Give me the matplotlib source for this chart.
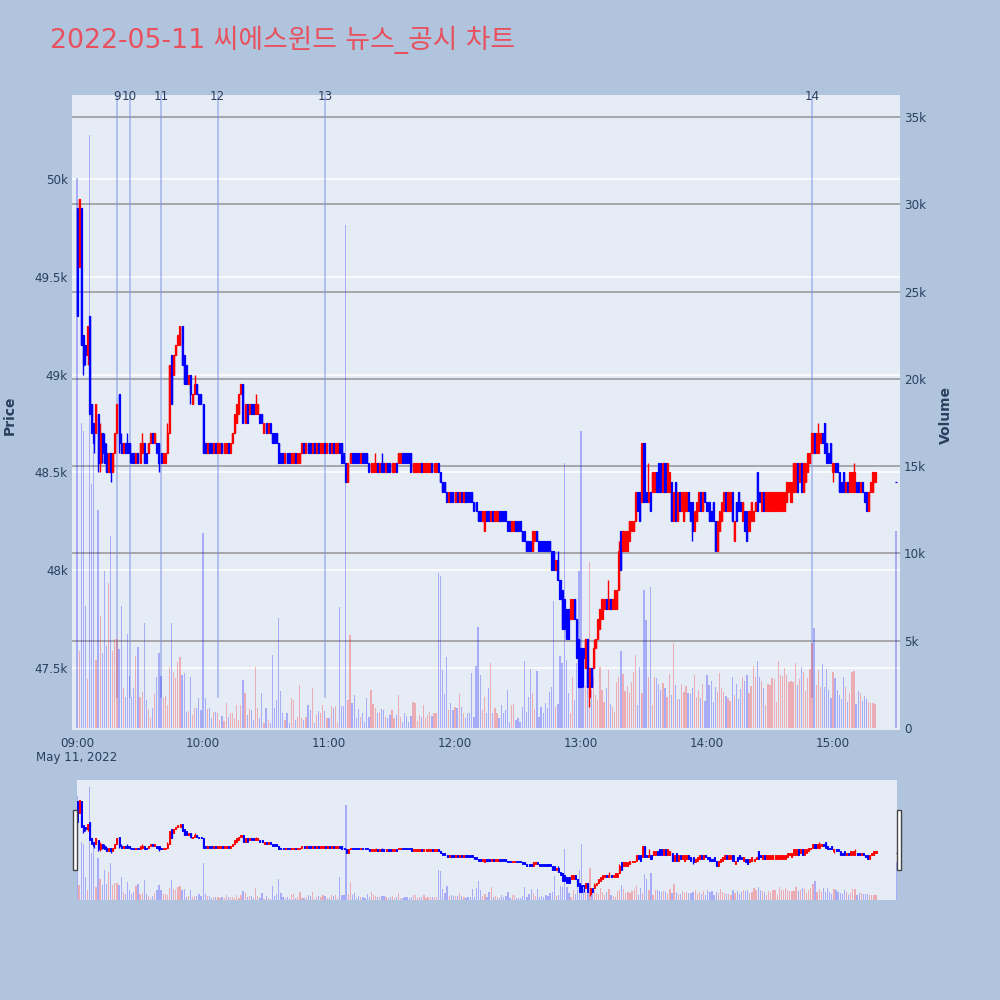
import matplotlib
matplotlib.use("Agg")
import matplotlib.pyplot as plt
import matplotlib.dates as mdates
from matplotlib.patches import Rectangle
import numpy as np
import pandas as pd

TITLE = "2022-05-11 씨에스윈드 뉴스_공시 차트"

# ---- minute candles 09:00 .. 15:20, plus the 15:30 closing auction ----
opens = [
 49850,49550,49850,49200,49150,49100,49300,48850,48750,48700,
 48800,48550,48700,48650,48600,48500,48600,48500,48600,48700,
 48900,48650,48600,48650,48650,48650,48600,48600,48550,48600,
 48550,48600,48650,48600,48600,48650,48700,48650,48650,48650,
 48600,48550,48550,48600,48700,49100,49000,49100,49150,49150,
 49250,49100,49050,48950,49000,48850,48900,48950,48900,48900,
 48850,48650,48600,48650,48650,48600,48650,48600,48600,48650,
 48600,48600,48650,48600,48650,48700,48750,48800,48900,48950,
 48750,48850,48800,48850,48850,48800,48800,48800,48800,48700,
 48750,48700,48750,48700,48700,48700,48650,48600,48600,48550,
 48600,48600,48550,48550,48600,48550,48550,48600,48650,48600,
 48650,48650,48600,48650,48600,48650,48600,48600,48650,48600,
 48650,48600,48650,48600,48600,48650,48650,48600,48550,48450,
 48550,48600,48600,48600,48600,48550,48600,48600,48600,48550,
 48500,48500,48500,48550,48500,48550,48550,48500,48550,48550,
 48500,48500,48550,48550,48550,48600,48600,48600,48600,48600,
 48500,48500,48500,48500,48550,48500,48500,48500,48500,48550,
 48500,48500,48550,48500,48450,48450,48400,48350,48400,48400,
 48350,48400,48350,48400,48350,48400,48400,48400,48400,48350,
 48350,48300,48300,48250,48200,48300,48300,48250,48300,48250,
 48250,48300,48300,48300,48300,48250,48250,48200,48200,48250,
 48250,48250,48200,48200,48150,48150,48150,48100,48150,48200,
 48150,48150,48150,48150,48150,48150,48100,48100,48000,48050,
 47950,47900,47850,47800,47800,47750,47750,47850,47750,47650,
 47600,47600,47500,47650,47350,47500,47500,47600,47650,47700,
 47750,47800,47850,47800,47850,47800,47800,47800,47900,48200,
 48100,48100,48100,48150,48200,48200,48250,48400,48400,48350,
 48650,48400,48350,48400,48400,48400,48500,48550,48550,48400,
 48550,48400,48400,48450,48250,48450,48250,48400,48300,48250,
 48300,48400,48350,48350,48200,48250,48300,48400,48300,48400,
 48350,48350,48300,48350,48250,48100,48200,48250,48300,48400,
 48300,48300,48400,48150,48350,48400,48350,48250,48300,48300,
 48200,48250,48250,48300,48500,48400,48300,48400,48300,48300,
 48300,48300,48300,48300,48300,48300,48300,48300,48350,48400,
 48350,48400,48400,48550,48450,48550,48400,48450,48500,48550,
 48600,48700,48600,48600,48650,48700,48750,48650,48600,48650,
 48500,48550,48550,48500,48450,48500,48400,48450,48400,48400,
 48400,48450,48450,48400,48450,48400,48400,48300,48400,48400,48450,
 48450]
highs = [
 49850,49900,49850,49200,49150,49250,49300,48850,48750,48850,
 48800,48750,48700,48700,48650,48600,48600,48600,48700,48850,
 48900,48700,48650,48650,48700,48650,48600,48600,48600,48600,
 48650,48700,48650,48600,48650,48700,48700,48700,48650,48650,
 48600,48600,48600,48750,49050,49100,49100,49150,49200,49250,
 49250,49100,49050,49000,49000,48900,49000,48950,48900,48900,
 48850,48650,48650,48650,48650,48650,48650,48650,48650,48650,
 48650,48650,48650,48650,48700,48800,48850,48900,48950,48950,
 48850,48850,48850,48850,48850,48900,48850,48800,48800,48750,
 48750,48750,48750,48700,48700,48700,48650,48600,48600,48600,
 48600,48600,48600,48600,48600,48600,48600,48650,48650,48650,
 48650,48650,48650,48650,48650,48650,48650,48650,48650,48650,
 48650,48650,48650,48650,48650,48650,48650,48600,48550,48550,
 48600,48600,48600,48600,48600,48600,48600,48600,48600,48550,
 48550,48550,48600,48550,48550,48600,48550,48550,48550,48550,
 48550,48550,48550,48600,48600,48600,48600,48600,48600,48600,
 48550,48550,48550,48550,48550,48550,48550,48550,48550,48550,
 48550,48550,48550,48500,48450,48450,48400,48400,48400,48400,
 48400,48400,48400,48400,48400,48400,48400,48400,48400,48350,
 48350,48300,48300,48300,48300,48300,48300,48300,48300,48300,
 48300,48300,48300,48300,48300,48250,48250,48250,48250,48250,
 48250,48250,48200,48200,48150,48150,48150,48200,48200,48200,
 48150,48150,48150,48150,48150,48150,48100,48100,48050,48100,
 47950,47900,47850,47800,47800,47850,47850,47850,47750,47650,
 47600,47600,47650,47650,47500,47500,47650,47650,47750,47800,
 47850,47850,47850,47950,47850,47850,47900,47900,48150,48200,
 48200,48200,48200,48250,48250,48250,48400,48400,48400,48650,
 48650,48400,48550,48400,48500,48500,48500,48550,48550,48550,
 48550,48550,48500,48450,48400,48450,48400,48400,48400,48400,
 48400,48400,48350,48350,48300,48350,48400,48400,48400,48400,
 48350,48350,48300,48350,48250,48250,48300,48350,48400,48400,
 48400,48400,48400,48250,48350,48400,48350,48350,48300,48300,
 48300,48350,48300,48350,48500,48400,48400,48400,48400,48400,
 48400,48400,48400,48400,48400,48400,48400,48400,48450,48450,
 48450,48550,48550,48550,48550,48550,48550,48550,48600,48600,
 48700,48700,48700,48750,48700,48700,48750,48650,48600,48650,
 48550,48550,48550,48500,48450,48500,48450,48450,48500,48500,
 48550,48450,48450,48450,48450,48400,48400,48400,48450,48500,48500,
 48450]
lows = [
 49300,49550,49150,49000,49050,49050,48800,48700,48600,48700,
 48500,48500,48550,48550,48500,48500,48450,48500,48600,48700,
 48600,48600,48600,48600,48600,48550,48550,48550,48550,48550,
 48550,48600,48550,48550,48600,48650,48650,48650,48600,48500,
 48550,48550,48550,48600,48700,48850,49000,49100,49150,49150,
 49050,48950,48950,48950,48850,48850,48900,48900,48850,48850,
 48600,48600,48600,48600,48600,48600,48600,48600,48600,48600,
 48600,48600,48600,48600,48650,48700,48750,48800,48900,48750,
 48750,48750,48800,48800,48800,48800,48800,48750,48750,48700,
 48700,48700,48700,48650,48650,48650,48550,48550,48550,48550,
 48550,48550,48550,48550,48550,48550,48550,48600,48600,48600,
 48600,48600,48600,48600,48600,48600,48600,48600,48600,48600,
 48600,48600,48600,48600,48600,48600,48550,48550,48450,48450,
 48550,48550,48550,48550,48550,48550,48550,48550,48550,48500,
 48500,48500,48500,48500,48500,48500,48500,48500,48500,48500,
 48500,48500,48500,48550,48550,48550,48550,48550,48550,48500,
 48500,48500,48500,48500,48500,48500,48500,48500,48500,48500,
 48500,48500,48500,48450,48400,48400,48350,48350,48350,48350,
 48350,48350,48350,48350,48350,48350,48350,48350,48350,48300,
 48300,48250,48250,48250,48200,48250,48250,48250,48250,48250,
 48250,48250,48250,48250,48250,48200,48200,48200,48200,48200,
 48200,48200,48150,48150,48100,48100,48100,48100,48150,48150,
 48100,48100,48100,48100,48100,48100,48000,48000,48000,47950,
 47850,47700,47700,47650,47650,47750,47750,47750,47550,47400,
 47400,47400,47500,47400,47300,47400,47500,47600,47650,47700,
 47750,47800,47800,47800,47800,47800,47800,47800,47900,48000,
 48100,48100,48100,48150,48200,48200,48250,48300,48250,48350,
 48350,48350,48350,48300,48400,48400,48400,48400,48400,48400,
 48400,48400,48400,48250,48250,48250,48250,48300,48300,48250,
 48300,48300,48250,48150,48200,48250,48300,48300,48300,48350,
 48300,48250,48250,48250,48100,48100,48200,48250,48300,48300,
 48300,48300,48250,48150,48250,48300,48300,48250,48200,48150,
 48200,48250,48250,48300,48300,48350,48300,48300,48300,48300,
 48300,48300,48300,48300,48300,48300,48300,48300,48350,48400,
 48350,48400,48400,48400,48450,48400,48400,48450,48500,48550,
 48600,48600,48600,48600,48650,48650,48600,48550,48550,48550,
 48450,48500,48500,48400,48400,48400,48400,48400,48400,48400,
 48400,48400,48400,48400,48400,48350,48300,48300,48400,48400,48450,
 48450]
closes = [
 49300,49900,49150,49050,49100,49250,48800,48700,48650,48850,
 48550,48700,48600,48550,48500,48600,48500,48600,48700,48850,
 48650,48600,48650,48600,48600,48600,48550,48550,48600,48550,
 48650,48650,48550,48550,48650,48700,48650,48700,48600,48550,
 48550,48600,48600,48700,49050,48850,49100,49150,49200,49250,
 49050,48950,48950,49000,48900,48900,48950,48900,48850,48850,
 48600,48600,48650,48600,48600,48650,48600,48650,48650,48600,
 48650,48650,48600,48650,48700,48800,48850,48900,48950,48750,
 48850,48750,48850,48800,48800,48850,48850,48750,48750,48750,
 48700,48750,48700,48650,48650,48650,48550,48550,48550,48600,
 48550,48550,48600,48600,48550,48600,48600,48650,48600,48650,
 48600,48600,48650,48600,48650,48600,48650,48650,48600,48650,
 48600,48650,48600,48650,48650,48600,48550,48550,48450,48550,
 48600,48550,48550,48550,48550,48600,48550,48550,48550,48500,
 48550,48550,48550,48500,48550,48500,48500,48550,48500,48500,
 48550,48550,48500,48600,48600,48550,48550,48550,48550,48500,
 48550,48550,48550,48550,48500,48550,48550,48550,48550,48500,
 48550,48550,48500,48450,48400,48400,48350,48400,48350,48350,
 48400,48350,48400,48350,48400,48350,48350,48350,48350,48300,
 48300,48250,48250,48300,48300,48250,48250,48300,48250,48300,
 48300,48250,48250,48250,48250,48200,48200,48250,48250,48200,
 48200,48200,48150,48150,48100,48100,48100,48200,48200,48150,
 48100,48100,48100,48100,48100,48100,48000,48000,48050,47950,
 47850,47700,47700,47650,47650,47850,47850,47750,47550,47400,
 47400,47550,47650,47400,47500,47400,47600,47650,47750,47800,
 47850,47850,47800,47850,47800,47850,47900,47900,48100,48000,
 48200,48200,48200,48250,48250,48250,48400,48300,48250,48650,
 48350,48350,48400,48300,48500,48500,48400,48400,48400,48550,
 48400,48550,48500,48250,48400,48250,48400,48300,48400,48400,
 48400,48300,48250,48200,48300,48350,48400,48300,48400,48350,
 48300,48250,48250,48250,48100,48250,48300,48350,48400,48300,
 48400,48400,48250,48250,48250,48300,48300,48350,48200,48150,
 48300,48350,48300,48350,48300,48350,48400,48300,48400,48400,
 48400,48400,48400,48400,48400,48400,48400,48400,48450,48450,
 48450,48550,48550,48400,48550,48400,48550,48550,48600,48600,
 48700,48600,48700,48700,48700,48650,48600,48550,48550,48550,
 48550,48500,48500,48400,48400,48400,48450,48400,48500,48500,
 48500,48400,48400,48450,48400,48350,48300,48400,48450,48500,48500,
 48450]
volumes = [
 31500,4400,17500,17000,7000,2800,34000,14000,17000,3900,
 12500,6400,4300,9000,4700,8300,11000,4400,5100,5100,
 4500,7000,2300,1800,5400,3000,1800,2270,4100,4660,
 1800,2080,6000,1600,1090,550,1130,1930,2940,4300,
 3000,1700,1830,1320,3480,6000,3230,2850,3800,4050,
 3040,3130,940,970,2940,740,1170,1170,1700,1030,
 11200,1700,1070,1130,550,940,900,840,460,690,
 420,1410,650,840,880,550,1320,460,1320,2750,
 1990,740,1090,1030,460,3480,1130,550,2000,270,
 1130,460,270,4180,1170,1600,6280,2140,840,460,
 840,270,1700,1600,460,650,2460,550,460,650,
 1320,1030,2270,310,740,970,840,1320,1000,550,
 550,1260,1130,1260,360,6950,1260,1260,28800,1600,
 5330,1410,1890,550,1070,650,880,360,1700,650,
 2200,1400,1130,840,940,1070,1030,650,550,740,
 1030,550,740,1890,610,360,840,690,360,690,
 1510,1410,400,740,650,1320,550,740,920,710,
 840,840,8900,8700,3320,1950,4090,1030,1450,1030,
 1220,1130,1950,1220,840,550,840,880,3170,650,
 3550,5770,3040,1030,1800,840,2290,3700,840,1170,
 880,550,1320,840,1030,2180,360,1320,1360,460,
 550,360,1220,3840,940,1800,3360,1990,1070,3280,
 650,1220,840,1410,1130,2040,2370,7300,1200,1400,
 4100,3700,15200,3900,2000,850,2900,1600,3700,9000,
 17000,3300,2400,2400,9500,2200,2900,1900,1600,3500,
 2200,1500,2300,3300,1400,1200,900,2650,2900,4400,
 3100,2100,2400,2000,2650,3200,4200,1300,3500,2000,
 7900,6200,2900,8100,1300,2900,2850,2500,2200,2600,
 2300,1800,3100,1890,4850,2440,1660,1660,2500,2040,
 2410,2030,1950,2270,3040,1800,2180,1700,2500,1550,
 3060,2460,2670,1510,2370,2060,3130,2310,2080,1850,
 1700,1550,2900,1890,2520,1660,2220,2900,2690,3040,
 2020,2410,3550,2940,3860,2940,2690,2270,1320,2500,
 2440,2840,2790,1510,3860,3020,3000,3420,3040,2650,
 2690,2650,3740,2480,2810,3490,3210,2140,2860,3380,
 4880,5730,2440,3320,2370,3650,2370,3380,2180,1700,
 3190,2840,2180,1890,1660,2940,2370,1510,1990,3190,
 3290,1360,2140,1990,1570,1830,1640,1510,1450,1410,1370,
 11300]

news_times = ["09:19", "09:25", "09:40", "10:07", "10:58", "14:50"]
news_labels = ["9", "10", "11", "12", "13", "14"]

price_ticks = [47500, 48000, 48500, 49000, 49500, 50000]
price_tick_labels = ["47.5k", "48k", "48.5k", "49k", "49.5k", "50k"]
vol_ticks = [0, 5000, 10000, 15000, 20000, 25000, 30000, 35000]
vol_tick_labels = ["0", "5k", "10k", "15k", "20k", "25k", "30k", "35k"]
hour_ticks = ["09:00", "10:00", "11:00", "12:00", "13:00", "14:00", "15:00"]

# ---- derived arrays ----
DAY = "2022-05-11 "
times = list(pd.date_range(DAY + "09:00", periods=len(opens) - 1, freq="min")) + [pd.Timestamp(DAY + "15:30")]
x = mdates.date2num(times)
o = np.array(opens, float); h = np.array(highs, float)
l = np.array(lows, float); c = np.array(closes, float)
v = np.array(volumes, float)
up = c > o
RED, BLUE = "#FF0000", "#0000FF"
ccol = np.where(up, RED, BLUE)
MIN = 1.0 / 1440.0

BG = "#B0C4DE"
PBG = "#E5ECF6"
TXT = "#2a3f5f"
FONT = ["DejaVu Sans", "Noto Sans CJK KR"]
plt.rcParams["font.family"] = FONT

fig = plt.figure(figsize=(10, 10), dpi=100)
fig.patch.set_facecolor(BG)

P_LO, P_HI = 47182, 50430
V_LO, V_HI = -115, 36270


def draw(axp, axv, wick_lw, body_edge):
    axv.bar(x, v, width=0.6 * MIN, color=ccol, alpha=0.27, linewidth=0, zorder=2)
    axp.vlines(x, l, h, colors=ccol, linewidth=wick_lw, zorder=3)
    axp.bar(x, np.abs(c - o), bottom=np.minimum(o, c), width=0.5 * MIN,
            color=ccol, edgecolor=ccol, linewidth=body_edge, zorder=4)


# ---- main chart ----
axv = fig.add_axes([0.072, 0.270, 0.828, 0.635])
ax = axv.twinx()
axv.yaxis.tick_right()
ax.yaxis.tick_left()
axv.set_facecolor(PBG)
ax.patch.set_visible(False)

xmin = mdates.date2num(pd.Timestamp(DAY + "09:00")) - 2.4 * MIN
xmax = mdates.date2num(pd.Timestamp(DAY + "09:00")) + 391.9 * MIN
for a in (ax, axv):
    a.set_xlim(xmin, xmax)
    for s in a.spines.values():
        s.set_visible(False)

ax.set_ylim(P_LO, P_HI)
axv.set_ylim(V_LO, V_HI)

# gridlines: white for price, grey for volume
for t in price_ticks:
    axv.axhline(V_LO + (t - P_LO) / (P_HI - P_LO) * (V_HI - V_LO), color="white",
                linewidth=1.1, zorder=0.9)
for t in vol_ticks[1:]:
    axv.axhline(t, color="#8f8f8f", linewidth=1.3, alpha=0.8, zorder=1)

draw(ax, axv, 1.0, 0.9)

# news markers
for t, lab in zip(news_times, news_labels):
    tx = mdates.date2num(pd.Timestamp(DAY + t))
    axv.axvline(tx, ymin=0.052, ymax=1.0, color="#7f95e6", alpha=0.55, linewidth=1.3, zorder=1.5)
    ax.text(tx, 0.997, lab, transform=ax.get_xaxis_transform(), ha="center", va="center",
            fontsize=8.6, color=TXT, clip_on=False)

ax.set_yticks(price_ticks)
ax.set_yticklabels(price_tick_labels)
axv.set_yticks(vol_ticks)
axv.set_yticklabels(vol_tick_labels)
ax.tick_params(axis="y", length=0, pad=3, labelsize=8.6, labelcolor=TXT)
axv.tick_params(axis="y", length=0, pad=3, labelsize=8.6, labelcolor=TXT)
axv.set_xticks([mdates.date2num(pd.Timestamp(DAY + t)) for t in hour_ticks])
axv.set_xticklabels(hour_ticks)
axv.tick_params(axis="x", length=0, pad=5, labelsize=8.6, labelcolor=TXT)
ax.tick_params(axis="x", length=0, labelbottom=False)

fig.text(0.077, 0.243, "May 11, 2022", ha="center", va="center", fontsize=8.6, color=TXT)
fig.text(0.010, 0.585, "Price", rotation=90, ha="center", va="center", fontsize=10,
         fontweight="bold", color=TXT)
fig.text(0.946, 0.585, "Volume", rotation=90, ha="center", va="center", fontsize=10,
         fontweight="bold", color=TXT)
fig.text(0.050, 0.960, TITLE, ha="left", va="center", fontsize=19.3, color="#E8505E",
         family=FONT)

# ---- range slider ----
sv = fig.add_axes([0.077, 0.100, 0.820, 0.120])
sp = sv.twinx()
sv.set_facecolor(PBG)
sp.patch.set_visible(False)
smin = mdates.date2num(pd.Timestamp(DAY + "09:00"))
smax = mdates.date2num(pd.Timestamp(DAY + "15:30"))
for a in (sv, sp):
    a.set_xlim(smin, smax)
    a.set_xticks([]); a.set_yticks([])
    for s in a.spines.values():
        s.set_visible(False)
sp.set_ylim(P_LO, P_HI)
sv.set_ylim(V_LO, V_HI)
draw(sp, sv, 0.9, 0.7)

for hx in (0.0725, 0.8965):
    fig.patches.append(Rectangle((hx, 0.130), 0.0045, 0.060, transform=fig.transFigure,
                                 facecolor="white", edgecolor="#444444", linewidth=1.0))

fig.savefig("out.png", dpi=100, facecolor=BG)
